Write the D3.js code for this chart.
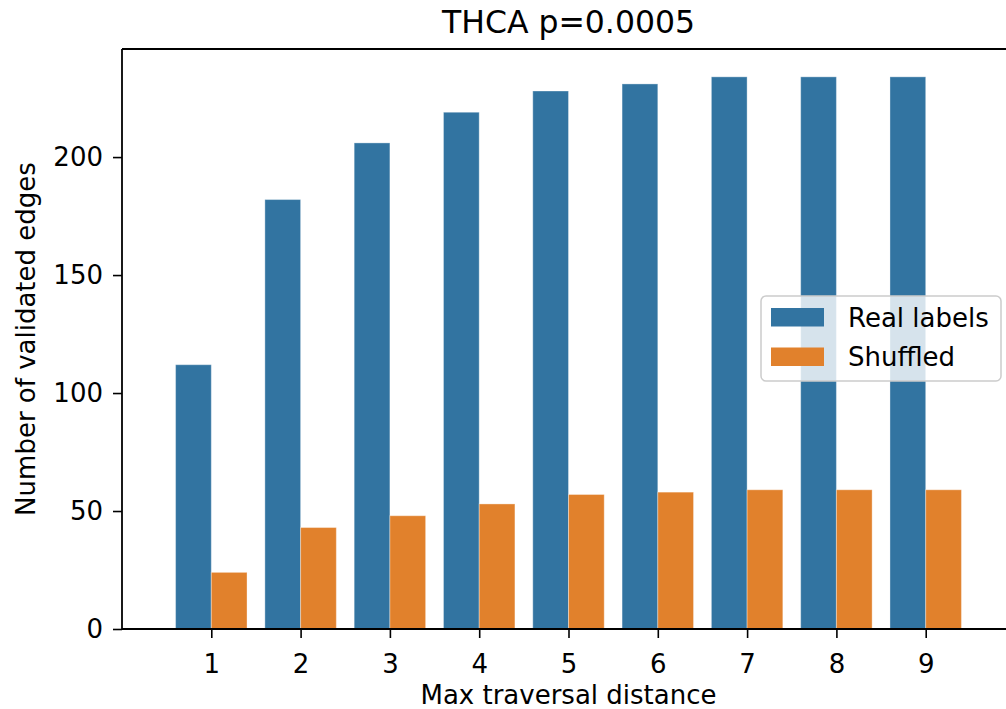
<!DOCTYPE html>
<html>
<head>
<meta charset="utf-8">
<script src="https://cdn.jsdelivr.net/npm/d3@7"></script>
<style>
body{margin:0;background:#fff;}
text{font-family:"DejaVu Sans",sans-serif;fill:#000;}
</style>
</head>
<body>
<div id="wrapper"></div>
<script>
// Data
const distances=[1,2,3,4,5,6,7,8,9];
const realLabels=[112,182,206,219,228,231,234,234,234];
const shuffled=[24,43,48,53,57,58,59,59,59];
const yTicks=[0,50,100,150,200];
const seriesNames=['Real labels','Shuffled'];
const colors=['#3274a1','#e1812c'];

// Dimension
const dimensions={width:1006,height:709,
    margins:{top:49,bottom:80,left:122,right:-9}};
const plotBottom=dimensions.height-dimensions.margins.bottom;
const plotRight=dimensions.width-dimensions.margins.right;

const svg=d3.select('#wrapper').append('svg')
    .attr('width',dimensions.width).attr('height',dimensions.height);

// Scales
const xScale=d3.scaleLinear().domain([0,10]).range([dimensions.margins.left,plotRight]);
const yScale=d3.scaleLinear().domain([0,245.8]).range([plotBottom,dimensions.margins.top]);
const barW=0.4;

// Bars
const series=[realLabels,shuffled];
series.forEach((vals,si)=>{
  svg.append('g').selectAll('rect').data(distances).enter().append('rect')
    .attr('x',d=>xScale(d-barW+si*barW))
    .attr('width',xScale(barW)-xScale(0))
    .attr('y',(d,i)=>yScale(vals[i]))
    .attr('height',(d,i)=>plotBottom-yScale(vals[i]))
    .attr('fill',colors[si])
    .attr('stroke','#ffffff').attr('stroke-opacity',0.35).attr('stroke-width',1);
});

// Axes
const xAxis=svg.append('g').attr('transform',`translate(0,${plotBottom})`)
    .call(d3.axisBottom(xScale).tickValues(distances).tickSize(9).tickPadding(10));
const yAxis=svg.append('g').attr('transform',`translate(${dimensions.margins.left},0)`)
    .call(d3.axisLeft(yScale).tickValues(yTicks).tickSize(9).tickPadding(10));
[xAxis,yAxis].forEach(a=>{
  a.selectAll('text').attr('font-size','26px').attr('font-family','DejaVu Sans');
  a.selectAll('line').attr('stroke','#000').attr('stroke-width',1.6);
  a.select('.domain').remove();
});
xAxis.selectAll('text').attr('dy','0.95em');
// spines
svg.append('line').attr('x1',xScale(0)).attr('x2',xScale(0))
  .attr('y1',yScale.range()[1]).attr('y2',plotBottom).attr('stroke','#000').attr('stroke-width',1.8);
svg.append('line').attr('x1',xScale(0)).attr('x2',xScale(10))
  .attr('y1',plotBottom).attr('y2',plotBottom).attr('stroke','#000').attr('stroke-width',1.8);
svg.append('line').attr('x1',xScale(0)).attr('x2',xScale(10))
  .attr('y1',yScale.range()[1]).attr('y2',yScale.range()[1]).attr('stroke','#000').attr('stroke-width',1.8);
svg.append('line').attr('x1',xScale(10)).attr('x2',xScale(10))
  .attr('y1',yScale.range()[1]).attr('y2',plotBottom).attr('stroke','#000').attr('stroke-width',1.8);

// Labels
svg.append('text').text('THCA p=0.0005')
  .attr('x',(xScale(0)+xScale(10))/2).attr('y',33)
  .attr('text-anchor','middle').attr('font-size','31.5px');
svg.append('text').text('Max traversal distance')
  .attr('x',(xScale(0)+xScale(10))/2).attr('y',704)
  .attr('text-anchor','middle').attr('font-size','26px');
svg.append('text').text('Number of validated edges')
  .attr('transform',`translate(35,${(plotBottom+dimensions.margins.top)/2}) rotate(-90)`)
  .attr('text-anchor','middle').attr('font-size','26px');

// Legend
const legend=svg.append('g').attr('transform','translate(761,296)');
legend.append('rect').attr('width',240).attr('height',85).attr('rx',5)
  .attr('fill','#fff').attr('fill-opacity',0.8)
  .attr('stroke','#cccccc').attr('stroke-width',1.5);
seriesNames.forEach((name,i)=>{
  const g=legend.append('g').attr('transform',`translate(10,${12+i*39.5})`);
  g.append('rect').attr('width',53).attr('height',18.5).attr('fill',colors[i]);
  g.append('text').text(name).attr('x',77).attr('y',18.5).attr('font-size','26px');
});
</script>
</body>
</html>
